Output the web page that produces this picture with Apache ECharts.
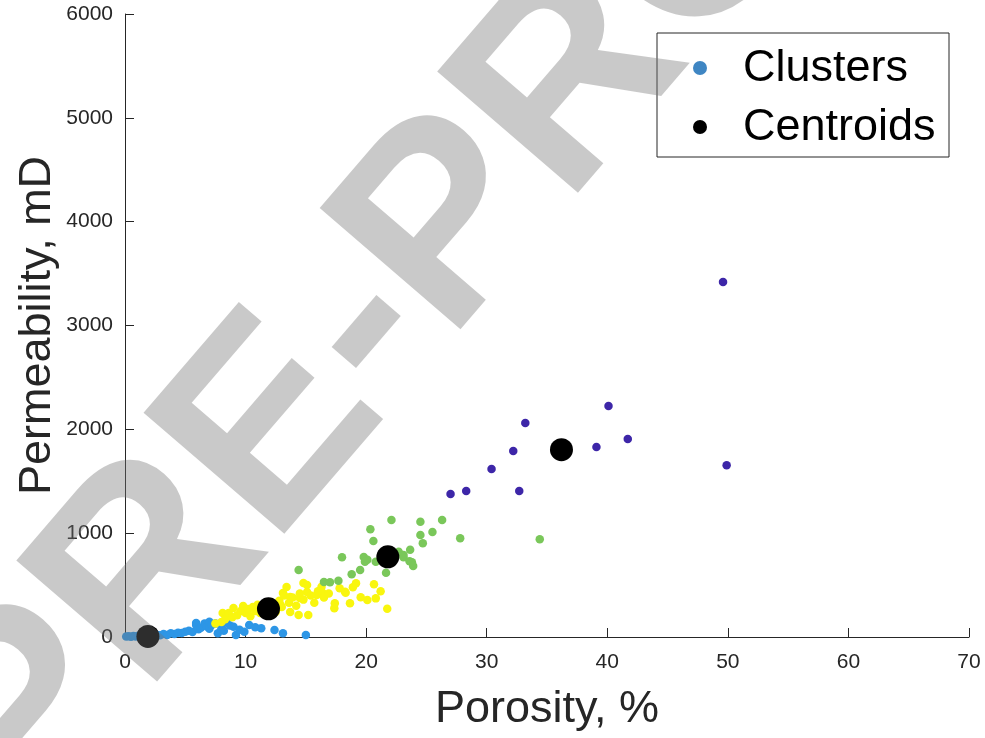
<!DOCTYPE html>
<html><head><meta charset="utf-8">
<script src="https://cdn.jsdelivr.net/npm/echarts@6/dist/echarts.min.js"></script>
<style>html,body{margin:0;padding:0;background:#fff}#c{width:985px;height:738px}</style>
</head><body><div id="c"></div>
<script>
// ---- data (porosity %, permeability mD) ----
const clusterBlue = [
 [0.1,5],[0.3,8],[0.5,3],[0.7,10],[0.9,6],[1.1,12],[1.3,4],[1.5,15],[1.7,9],[2.0,18],[2.3,12],[2.6,22],
 [2.9,16],[3.2,28],[3.5,20],[3.8,35],[4.1,30],[4.4,42],[4.7,38],[5.0,51],[5.3,60],[5.6,48],[5.9,115],
 [5.9,135],[6.1,75],[6.3,90],[6.6,131],[6.8,100],[7.0,80],[7.0,147],[7.2,115],[7.5,130],[7.7,35],[8.0,84],
 [8.2,60],[8.4,138],[8.4,147],[8.7,110],[9.0,99],[9.2,19],[9.5,70],[9.9,51],[10.3,115],[10.8,95],
 [11.3,84],[12.4,67],[13.1,35],[15.0,19]
];
const clusterYellow = [
 [7.5,130],[8.0,144],[8.1,231],[8.3,170],[8.6,231],[8.9,190],[9.0,279],[9.3,210],[9.6,250],[9.8,299],
 [10.0,230],[10.2,270],[10.4,200],[10.6,289],[10.8,250],[11.0,310],[11.2,230],[11.4,280],[11.6,320],
 [11.8,260],[12.2,300],[12.5,240],[12.9,308],[12.8,350],[13.0,290],[13.1,424],[13.2,400],[13.4,482],
 [13.7,385],[13.7,241],[13.6,330],[13.9,380],[14.2,300],[14.4,212],[14.5,375],[14.5,420],[14.8,360],
 [14.8,520],[15.1,500],[15.1,433],[15.2,212],[15.4,400],[15.7,330],[15.9,404],[16.0,440],[16.3,485],
 [16.4,423],[16.5,380],[16.9,420],[17.36,276],[17.4,324],[17.8,470],[18.25,436],[18.3,427],[18.66,324],
 [18.9,479],[19.16,517],[19.55,382],[20.1,356],[20.65,507],[20.8,372],[21.2,440],[21.75,273]
];
const clusterGreen = [
 [14.4,645],[16.5,530],[17.0,527],[17.7,542],[18.0,767],[18.8,604],[19.5,645],[19.8,770],[20.1,745],
 [19.9,725],[20.35,1037],[20.6,925],[20.8,725],[21.65,619],[22.1,1127],[22.7,822],[23.1,767],[23.1,790],
 [23.65,841],[23.6,730],[23.8,719],[23.9,684],[24.5,1111],[24.5,982],[24.7,902],[25.5,1011],[26.3,1127],
 [27.8,950],[34.4,941]
];
const clusterPurple = [
 [49.6,3420],[40.1,2225],[33.2,2061],[32.2,1791],[39.1,1830],[41.7,1907],[30.4,1618],[28.3,1406],
 [27.0,1377],[32.7,1406],[49.9,1655]
];
const centroids = [[1.9,5],[11.9,272],[21.8,772],[36.2,1804]];
const clusterColors = ['#2D96E6', '#F9F60E', '#7AC75A', '#3D26A8'];
const legendLabels = ['Clusters', 'Centroids'];
const xAxisName = 'Porosity, %';
const yAxisName = 'Permeability, mD';

const txt = '#262626';
const chart = echarts.init(document.getElementById('c'), null, {renderer: 'canvas'});
const clusterData = [clusterBlue, clusterYellow, clusterGreen, clusterPurple];
const series = clusterData.map((d, i) => ({
  type: 'scatter', data: d, symbolSize: 8.5, itemStyle: {color: clusterColors[i], opacity: 1},
  emphasis: {disabled: true}, z: 2
}));
series.push({type: 'scatter', name: 'Centroids', data: centroids, symbolSize: 23,
  itemStyle: {color: '#000', opacity: 1}, emphasis: {disabled: true}, z: 3});

chart.setOption({
  animation: false,
  backgroundColor: '#fff',
  grid: {left: 125, right: 16, top: 14, bottom: 101, containLabel: false, outerBoundsMode: 'none'},
  xAxis: {
    type: 'value', min: 0, max: 70, interval: 10,
    axisLine: {show: true, lineStyle: {color: txt, width: 1}},
    axisTick: {show: true, inside: true, length: 9, lineStyle: {color: txt}},
    splitLine: {show: false},
    axisLabel: {fontSize: 21, color: txt, margin: 15, fontFamily: 'Liberation Sans', formatter: v => String(v)},
    name: xAxisName, nameLocation: 'middle', nameGap: 50, nameMoveOverlap: false,
    nameTextStyle: {fontSize: 45, color: txt, fontFamily: 'Liberation Sans'}
  },
  yAxis: {
    type: 'value', min: 0, max: 6000, interval: 1000,
    axisLine: {show: true, lineStyle: {color: txt, width: 1}},
    axisTick: {show: true, inside: true, length: 9, lineStyle: {color: txt}},
    splitLine: {show: false},
    axisLabel: {fontSize: 21, color: txt, margin: 12, fontFamily: 'Liberation Sans', formatter: v => String(v)},
    name: yAxisName, nameLocation: 'middle', nameGap: 65, nameRotate: 90, nameMoveOverlap: false,
    nameTextStyle: {fontSize: 45, color: txt, fontFamily: 'Liberation Sans'}
  },
  series: series,
  graphic: [
    {type: 'rect', shape: {x: 657, y: 33, width: 292, height: 124}, style: {fill: '#fff', stroke: txt, lineWidth: 1}, z: 10},
    {type: 'circle', shape: {cx: 700, cy: 68, r: 7}, style: {fill: '#3F86C3'}, z: 11},
    {type: 'circle', shape: {cx: 700, cy: 127, r: 7}, style: {fill: '#000'}, z: 11},
    {type: 'text', x: 743, y: 69, style: {text: legendLabels[0], fontSize: 45, fontFamily: 'Liberation Sans', fill: '#000', verticalAlign: 'middle'}, z: 11},
    {type: 'text', x: 743, y: 128, style: {text: legendLabels[1], fontSize: 45, fontFamily: 'Liberation Sans', fill: '#000', verticalAlign: 'middle'}, z: 11},
    {type: 'text', x: 495, y: 175, rotation: 0.86, silent: true,
     style: {text: 'PRE-PROOF', fontSize: 270, fontWeight: 'bold', fontFamily: 'Liberation Sans',
       fill: 'rgba(115,115,115,0.39)', align: 'center', verticalAlign: 'middle'}, z: 20}
  ]
});
</script></body></html>
